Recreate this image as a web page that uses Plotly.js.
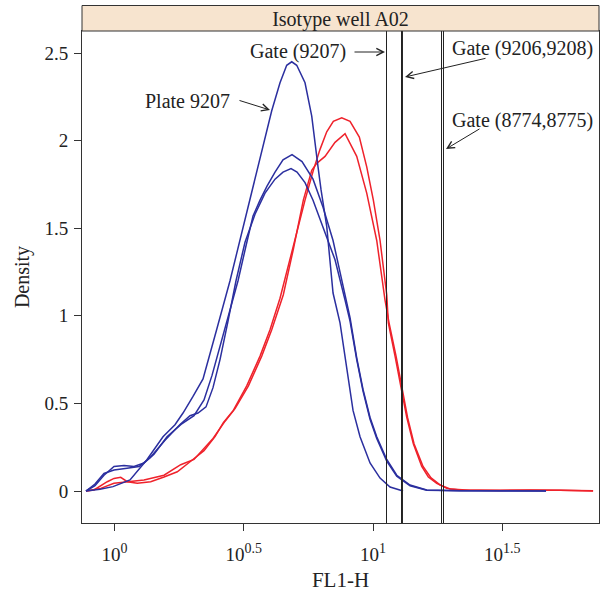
<!DOCTYPE html>
<html>
<head>
<meta charset="utf-8">
<script src="https://cdn.plot.ly/plotly-3.0.1.min.js"></script>
<style>html,body{margin:0;padding:0;background:#fff;}#chart{width:600px;height:592px;}</style>
</head>
<body>
<div id="chart"></div>
<script>
// x values are log10(FL1-H); y values are density
var blueA_x = [-0.1103,-0.0561,-0.0058,0.0600,0.1246,0.1876,0.2340,0.2650,0.3037,0.3424,0.3950,0.4468,0.5048,0.5629,0.6081,0.6402,0.6661,0.6855,0.7048,0.7369,0.7629,0.7872,0.7988,0.8209,0.8453,0.8723,0.8983,0.9226,0.9497,0.9884,1.0271,1.0658,1.1161];
var blueA_y = [0,0.01,0.025,0.063,0.177,0.31,0.378,0.445,0.54,0.64,0.92,1.2,1.55,1.90,2.17,2.33,2.43,2.45,2.43,2.33,2.14,1.85,1.72,1.51,1.13,0.96,0.69,0.46,0.31,0.16,0.074,0.023,0];

var blueB_x = [-0.1103,-0.0754,-0.0406,-0.0019,0.0368,0.0754,0.1141,0.1528,0.2031,0.2573,0.3075,0.3462,0.3772,0.4081,0.4391,0.4778,0.5087,0.5358,0.5629,0.5899,0.6209,0.6518,0.6867,0.7253,0.7679,0.8066,0.8453,0.8789,0.9110,0.9369,0.9613,0.9884,1.0143,1.0530,1.0917,1.1431,1.2077,1.3366,1.4913,1.6692];
var blueB_y = [0,0.03,0.09,0.14,0.145,0.14,0.16,0.21,0.31,0.38,0.43,0.52,0.66,0.83,1.0,1.2,1.4,1.57,1.66,1.74,1.82,1.89,1.92,1.88,1.78,1.62,1.43,1.21,0.99,0.76,0.58,0.42,0.31,0.18,0.09,0.034,0.006,0.001,0,0];

var blueC_x = [-0.1103,-0.0754,-0.0406,-0.0019,0.0484,0.0948,0.1373,0.1954,0.2534,0.2921,0.3230,0.3540,0.3810,0.4081,0.4391,0.4700,0.5048,0.5435,0.5822,0.6209,0.6518,0.6828,0.7060,0.7369,0.7679,0.8066,0.8530,0.8917,0.9110,0.9369,0.9613,0.9884,1.0143,1.0530,1.0917,1.1431,1.2077,1.3366,1.4913,1.6692];
var blueC_y = [0,0.04,0.1,0.12,0.13,0.14,0.19,0.29,0.38,0.43,0.445,0.48,0.59,0.75,0.97,1.2,1.42,1.58,1.7,1.78,1.82,1.84,1.82,1.76,1.66,1.51,1.32,1.09,0.97,0.75,0.57,0.41,0.30,0.17,0.085,0.03,0.005,0.002,0.001,0];

var red1_x = [-0.1103,-0.0793,-0.0279,-0.0019,0.0240,0.0495,0.0882,0.1400,0.1915,0.2429,0.2948,0.3462,0.3888,0.4209,0.4596,0.5114,0.5629,0.6015,0.6402,0.6917,0.7369,0.7691,0.7950,0.8209,0.8464,0.8789,0.9110,0.9470,0.9756,1.0012,1.0271,1.0530,1.0592,1.0851,1.1110,1.1304,1.1559,1.1884,1.2139,1.2464,1.2851,1.3366,1.4913,1.6074,1.7234,1.8511];
var red1_y = [0,0.006,0.053,0.072,0.078,0.053,0.044,0.053,0.08,0.11,0.17,0.23,0.31,0.39,0.46,0.6,0.77,0.92,1.10,1.40,1.66,1.83,1.95,2.05,2.11,2.13,2.11,2.02,1.85,1.66,1.43,1.12,0.96,0.77,0.58,0.42,0.27,0.14,0.08,0.044,0.015,0.006,0.003,0.006,0.004,0.001];

var red2_x = [-0.1103,-0.0534,-0.0019,0.0495,0.1141,0.1915,0.2561,0.3075,0.3462,0.3810,0.4284,0.4662,0.5180,0.5694,0.6081,0.6530,0.6917,0.7304,0.7629,0.7822,0.8143,0.8530,0.8917,0.9369,0.9756,1.0143,1.0464,1.0619,1.0890,1.1141,1.1335,1.1586,1.1934,1.2244,1.2592,1.2979,1.3752,1.5687,1.7234,1.8511];
var red2_y = [0,0.015,0.044,0.053,0.063,0.09,0.15,0.18,0.245,0.30,0.40,0.47,0.6,0.77,0.92,1.12,1.38,1.66,1.83,1.87,1.91,1.99,2.04,1.91,1.70,1.43,1.09,0.96,0.77,0.58,0.42,0.27,0.14,0.075,0.035,0.012,0.005,0.004,0.005,0];

// gate positions, log10(FL1-H)
var gate9207 = [1.0521];
var gate9206_9208 = [1.1101, 1.1139];
var gate8774_8775 = [1.2648, 1.2725];

var xTickVals = [0, 0.5, 1, 1.5];
var SUP = function (s) { return '10<sup><span style="font-size:14px">' + s + '</span></sup>'; };
var xTickText = [SUP('0'), SUP('0.5'), SUP('1'), SUP('1.5')];
var yTickVals = [0, 0.5, 1, 1.5, 2, 2.5];
var yTickText = ['0', '0.5', '1', '1.5', '2', '2.5'];

var BLUE = '#2B2F9F', RED = '#EF222B';
var FONT = 'Liberation Serif, Times New Roman, serif';
var INK = '#222';

function tr(x, y, c) {
  return {x: x, y: y, type: 'scatter', mode: 'lines', line: {color: c, width: 1.5}, hoverinfo: 'skip', showlegend: false};
}
var data = [
  tr(red1_x, red1_y, RED), tr(red2_x, red2_y, RED),
  tr(blueA_x, blueA_y, BLUE), tr(blueB_x, blueB_y, BLUE), tr(blueC_x, blueC_y, BLUE)
];

var shapes = [];
gate9207.concat(gate9206_9208, gate8774_8775).forEach(function (g) {
  shapes.push({type: 'line', xref: 'x', yref: 'paper', x0: g, x1: g, y0: 0, y1: 1,
    line: {color: INK, width: 1}});
});
// strip
shapes.push({type: 'rect', xref: 'paper', yref: 'paper', x0: 0, x1: 1, y0: 1, y1: 1.0518,
  fillcolor: '#F7E4CF', line: {color: '#333', width: 1}});

function px(xp) { return (xp - 82) / 517; }
function py(yp) { return (523 - yp) / 492; }

function label(t, xc, yc) {
  return {text: t, xref: 'paper', yref: 'paper', x: px(xc), y: py(yc), xanchor: 'center', yanchor: 'middle',
    showarrow: false, font: {family: FONT, size: 20, color: INK}};
}
function arrow(x0, y0, x1, y1) {
  return {text: '', xref: 'paper', yref: 'paper', x: px(x1), y: py(y1), axref: 'pixel', ayref: 'pixel',
    ax: x0 - x1, ay: y0 - y1, showarrow: true, arrowhead: 5, arrowsize: 1.4, arrowwidth: 1, arrowcolor: INK,
    standoff: 0, startstandoff: 0};
}

var annotations = [
  label('Gate (9207)', 298, 51), arrow(353, 52, 385, 52),
  label('Plate 9207', 187, 101), arrow(238, 100, 270, 110),
  label('Gate (9206,9208)', 522, 48), arrow(487, 58, 405, 77),
  label('Gate (8774,8775)', 522, 120), arrow(481, 128, 446, 149)
];

var axisCommon = {showgrid: false, zeroline: false, showline: true, mirror: true, linecolor: '#333', linewidth: 1,
  ticks: 'outside', ticklen: 7, tickcolor: '#333', tickwidth: 1, tickmode: 'array',
  tickfont: {family: FONT, size: 19, color: INK}, automargin: false};

var layout = {
  width: 600, height: 592,
  margin: {l: 82, r: 1, t: 31, b: 69, pad: 0},
  paper_bgcolor: '#fff', plot_bgcolor: '#fff',
  title: {text: 'Isotype well A02', xref: 'paper', x: 0.5, xanchor: 'center', y: 1 - 18.5 / 592, yanchor: 'middle',
    font: {family: FONT, size: 20, color: INK}},
  xaxis: Object.assign({}, axisCommon, {range: [-0.1257, 1.874], tickvals: xTickVals, ticktext: xTickText,
    ticklabelstandoff: 7,
    title: {text: 'FL1-H', font: {family: FONT, size: 21, color: INK}, standoff: 8}}),
  yaxis: Object.assign({}, axisCommon, {range: [-0.1826, 2.6256], tickvals: yTickVals, ticktext: yTickText,
    ticklabelstandoff: 2,
    title: {text: 'Density', font: {family: FONT, size: 20, color: INK}, standoff: 9}}),
  shapes: shapes,
  annotations: annotations
};

Plotly.newPlot('chart', data, layout, {displayModeBar: false, staticPlot: true});
</script>
</body>
</html>
